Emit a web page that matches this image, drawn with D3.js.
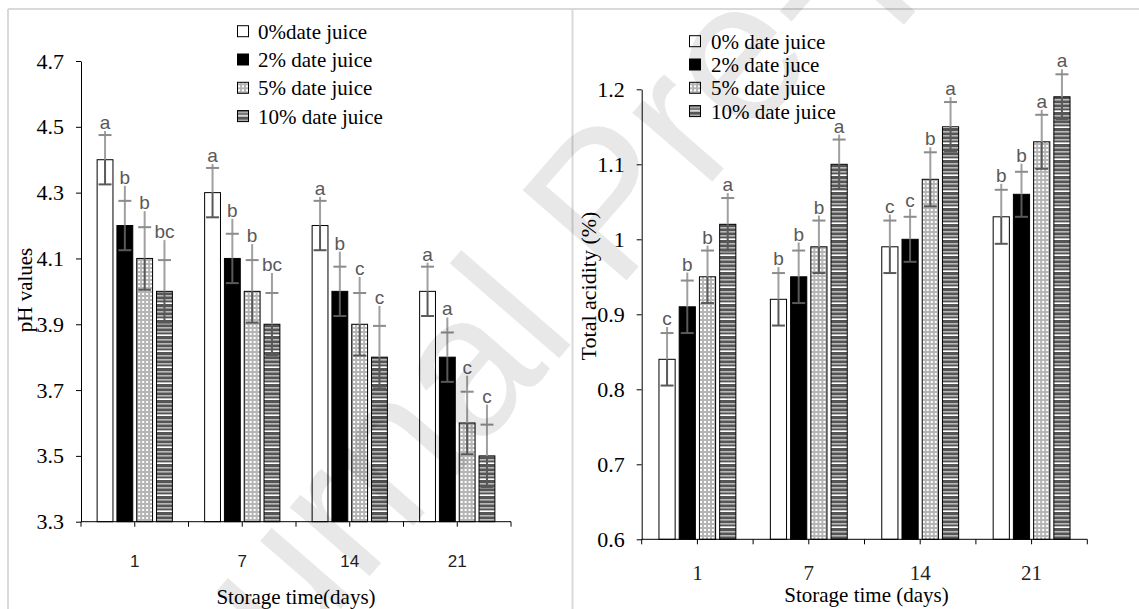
<!DOCTYPE html>
<html>
<head>
<meta charset="utf-8">
<script src="https://cdn.jsdelivr.net/npm/d3@7"></script>
<style>
  body { margin: 0; background: #fff; }
  svg { display: block; }
</style>
</head>
<body>
<div id="chart"></div>
<script>
// storage days (categories)
const days = ["1", "7", "14", "21"];

// series names as printed in each legend
const phSeries = ["0%date juice", "2% date juice", "5% date juice", "10% date juice"];
const acidSeries = ["0% date juice", "2% date juce", "5% date juice", "10% date juice"];

// pH values, one row per day, one column per series
const phValues = [
    [4.4, 4.2, 4.1, 4.0],
    [4.3, 4.1, 4.0, 3.9],
    [4.2, 4.0, 3.9, 3.8],
    [4.0, 3.8, 3.6, 3.5]
];
const phErrors = [
    [0.075, 0.075, 0.095, 0.095],
    [0.075, 0.075, 0.095, 0.095],
    [0.075, 0.075, 0.095, 0.095],
    [0.075, 0.075, 0.095, 0.095]
];
const phLetters = [
    ["a", "b", "b", "bc"],
    ["a", "b", "b", "bc"],
    ["a", "b", "c", "c"],
    ["a", "a", "c", "c"]
];
const phTicks = [3.3, 3.5, 3.7, 3.9, 4.1, 4.3, 4.5, 4.7];

// total acidity (%)
const acidValues = [
    [0.84, 0.91, 0.95, 1.02],
    [0.92, 0.95, 0.99, 1.10],
    [0.99, 1.00, 1.08, 1.15],
    [1.03, 1.06, 1.13, 1.19]
];
const acidErrors = [
    [0.035, 0.035, 0.035, 0.035],
    [0.035, 0.035, 0.035, 0.033],
    [0.035, 0.03, 0.036, 0.033],
    [0.036, 0.03, 0.036, 0.03]
];
const acidLetters = [
    ["c", "b", "b", "a"],
    ["b", "b", "b", "a"],
    ["c", "c", "b", "a"],
    ["b", "b", "a", "a"]
];
const acidTicks = [0.6, 0.7, 0.8, 0.9, 1.0, 1.1, 1.2];

const W = 1139, H = 609;
const serif = "'Liberation Serif', 'Times New Roman', serif";
const sans = "'Liberation Sans', Arial, sans-serif";

const svg = d3.select("#chart").append("svg")
    .attr("width", W)
    .attr("height", H);

// fill patterns
const defs = svg.append("defs");
const dots = defs.append("pattern")
    .attr("id", "dots")
    .attr("patternUnits", "userSpaceOnUse")
    .attr("width", 4).attr("height", 4);
dots.append("rect").attr("width", 4).attr("height", 4).attr("fill", "#b5b5b5");
dots.append("rect").attr("x", 1).attr("y", 1).attr("width", 2).attr("height", 2).attr("fill", "#ffffff");

const stripes = defs.append("pattern")
    .attr("id", "stripes")
    .attr("patternUnits", "userSpaceOnUse")
    .attr("width", 4).attr("height", 16);
stripes.append("rect").attr("width", 4).attr("height", 16).attr("fill", "#555");
[3, 7, 11].forEach(y => stripes.append("rect").attr("y", y).attr("width", 4).attr("height", 1.6).attr("fill", "#b8b8b8"));
stripes.append("rect").attr("y", 14.4).attr("width", 4).attr("height", 1.6).attr("fill", "#fff");

const fills = ["#ffffff", "#000000", "url(#dots)", "url(#stripes)"];

// panel frame
const frame = svg.append("g").attr("stroke", "#d9d9d9").attr("stroke-width", 2);
frame.append("line").attr("x1", 8).attr("x2", W).attr("y1", 9).attr("y2", 9);
frame.append("line").attr("x1", 8).attr("x2", 8).attr("y1", 9).attr("y2", H);
frame.append("line").attr("x1", 572.5).attr("x2", 572.5).attr("y1", 9).attr("y2", H);

function drawChart(cfg) {
    const g = svg.append("g");

    const x0 = d3.scaleBand()
        .domain(days)
        .range(cfg.xRange)
        .paddingInner(cfg.padInner)
        .paddingOuter(cfg.padInner / 2);
    const x1 = d3.scaleBand()
        .domain(d3.range(4))
        .range([0, x0.bandwidth()])
        .paddingInner(0.2);
    const y = d3.scaleLinear()
        .domain(cfg.domain)
        .range(cfg.yRange);

    // y axis
    g.append("g")
        .attr("transform", `translate(${cfg.xRange[0]},0)`)
        .call(d3.axisLeft(y).tickValues(cfg.ticks).tickSize(5).tickSizeOuter(0)
            .tickPadding(cfg.tickPad).tickFormat(d => String(+d.toFixed(1))))
        .call(a => a.selectAll("text").attr("font-family", serif).attr("font-size", 22).attr("fill", "#000"))
        .call(a => a.selectAll("line, path").attr("stroke", "#000"));

    // bars
    const groups = g.selectAll(".day")
        .data(days)
        .join("g")
        .attr("transform", d => `translate(${x0(d)},0)`);

    groups.each(function (day, di) {
        const grp = d3.select(this);
        const rows = cfg.values[di].map((v, si) => ({
            v: v, e: cfg.errors[di][si], l: cfg.letters[di][si], s: si
        }));

        grp.selectAll("rect")
            .data(rows)
            .join("rect")
            .attr("x", d => x1(d.s))
            .attr("y", d => y(d.v))
            .attr("width", x1.bandwidth())
            .attr("height", d => y(cfg.domain[0]) - y(d.v))
            .attr("fill", d => fills[d.s])
            .attr("stroke", "#000")
            .attr("stroke-width", 1);

        const eb = grp.selectAll(".err")
            .data(rows)
            .join("g")
            .attr("transform", d => `translate(${x1(d.s) + x1.bandwidth() / 2},0)`);

        // the whisker runs a little past the top cap, up to the letter
        const top = d => y(d.v + d.e) - cfg.ext[d.s];
        eb.append("line")
            .attr("y1", top)
            .attr("y2", d => y(d.v))
            .attr("stroke", "#a0a0a0").attr("stroke-width", 2);
        eb.append("line")
            .attr("y1", d => y(d.v))
            .attr("y2", d => y(d.v - d.e))
            .attr("stroke", "#595959").attr("stroke-width", 2);
        eb.append("line")
            .attr("x1", -6.5).attr("x2", 6.5)
            .attr("y1", d => y(d.v + d.e)).attr("y2", d => y(d.v + d.e))
            .attr("stroke", "#8c8c8c").attr("stroke-width", 2);
        eb.append("line")
            .attr("x1", -6.5).attr("x2", 6.5)
            .attr("y1", d => y(d.v - d.e)).attr("y2", d => y(d.v - d.e))
            .attr("stroke", "#595959").attr("stroke-width", 2);
        eb.append("text")
            .attr("y", d => top(d) - 2)
            .attr("text-anchor", "middle")
            .attr("font-family", sans)
            .attr("font-size", 19)
            .attr("fill", "#595959")
            .text(d => d.l);
    });

    // x axis with ticks at category edges and centres
    const base = y(cfg.domain[0]);
    g.append("line")
        .attr("x1", cfg.xRange[0]).attr("x2", cfg.xRange[1])
        .attr("y1", base).attr("y2", base)
        .attr("stroke", "#000");
    const half = x0.step() / 2;
    g.selectAll(".xt")
        .data(d3.range(days.length * 2 + 1))
        .join("line")
        .attr("x1", i => cfg.xRange[0] + i * half)
        .attr("x2", i => cfg.xRange[0] + i * half)
        .attr("y1", base).attr("y2", base + 5)
        .attr("stroke", "#000");
    g.selectAll(".xl")
        .data(days)
        .join("text")
        .attr("x", d => x0(d) + x0.bandwidth() / 2)
        .attr("y", base + cfg.xLabelDy)
        .attr("text-anchor", "middle")
        .attr("font-family", cfg.xLabelFont)
        .attr("font-size", cfg.xLabelSize)
        .attr("fill", "#222")
        .text(d => d);

    // titles
    g.append("text")
        .attr("x", (cfg.xRange[0] + cfg.xRange[1]) / 2 + cfg.xTitleShift)
        .attr("y", cfg.xTitleY)
        .attr("text-anchor", "middle")
        .attr("font-family", serif)
        .attr("font-size", 21)
        .text(cfg.xTitle);
    g.append("text")
        .attr("transform", `translate(${cfg.yTitlePos[0]},${cfg.yTitlePos[1]}) rotate(-90)`)
        .attr("text-anchor", "middle")
        .attr("font-family", serif)
        .attr("font-size", cfg.yTitleSize)
        .text(cfg.yTitle);

    // legend
    const lg = g.append("g")
        .attr("transform", `translate(${cfg.legend.x},${cfg.legend.y})`);
    const item = lg.selectAll("g")
        .data(cfg.series)
        .join("g")
        .attr("transform", (d, i) => `translate(0,${i * cfg.legend.dy})`);
    item.append("rect")
        .attr("x", 0.5).attr("y", -6)
        .attr("width", 11).attr("height", 11)
        .attr("fill", (d, i) => fills[i])
        .attr("stroke", "#000").attr("stroke-width", 1);
    item.append("text")
        .attr("x", cfg.legend.tx)
        .attr("y", 7)
        .attr("font-family", serif)
        .attr("font-size", 21)
        .text(d => d);
}

drawChart({
    xRange: [81, 511], yRange: [521.7, 61], domain: [3.3, 4.7], ticks: phTicks,
    tickPad: 12, padInner: 0.3, ext: [4, 15, 16, 20],
    values: phValues, errors: phErrors, letters: phLetters, series: phSeries,
    xLabelDy: 45, xLabelFont: sans, xLabelSize: 17,
    xTitle: "Storage time(days)", xTitleY: 604, xTitleShift: 0,
    yTitle: "pH values", yTitlePos: [32, 290], yTitleSize: 21,
    legend: { x: 237, y: 31.7, dy: 28.3, tx: 21 }
});

drawChart({
    xRange: [641.7, 1087.3], yRange: [539.3, 89.3], domain: [0.6, 1.2], ticks: acidTicks,
    tickPad: 12, padInner: 0.31, ext: [6, 8, 5, 5],
    values: acidValues, errors: acidErrors, letters: acidLetters, series: acidSeries,
    xLabelDy: 41, xLabelFont: serif, xLabelSize: 21,
    xTitle: "Storage time (days)", xTitleY: 602, xTitleShift: 2,
    yTitle: "Total acidity (%)", yTitlePos: [596, 286], yTitleSize: 22,
    legend: { x: 689, y: 41.7, dy: 23.3, tx: 22 }
});

// watermark
svg.append("text")
    .attr("transform", "translate(149,830) rotate(-49)")
    .attr("font-family", sans)
    .attr("font-size", 200)
    .attr("fill", "#000")
    .attr("fill-opacity", 0.09)
    .style("pointer-events", "none")
    .text("Journal Pre-proof");
</script>
</body>
</html>
